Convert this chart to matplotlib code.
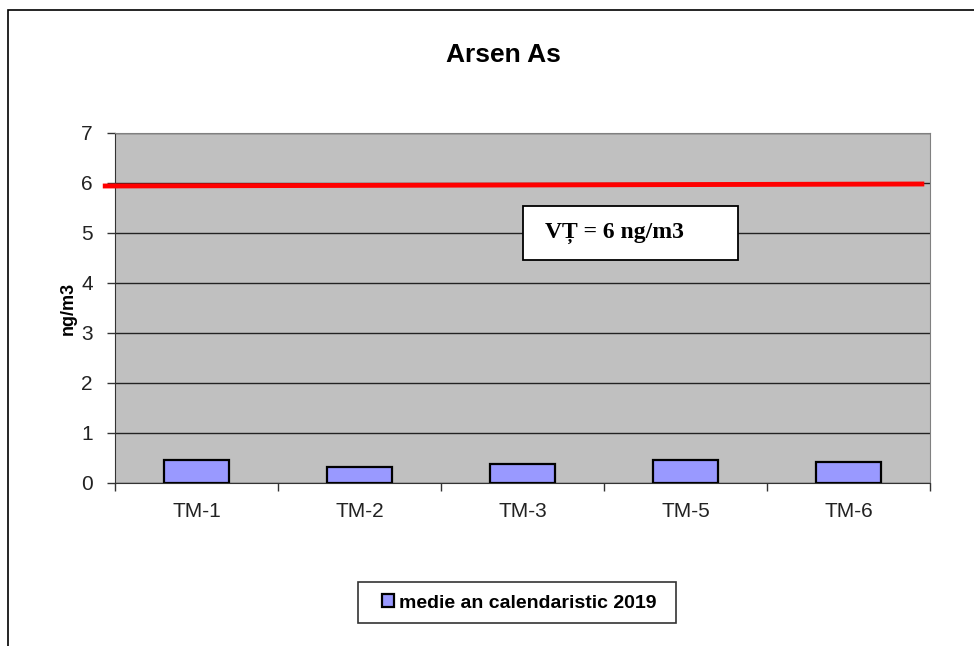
import numpy as np
import matplotlib.pyplot as plt
from matplotlib.patches import Rectangle

plt.rcParams['font.family'] = ['Liberation Sans', 'DejaVu Sans']

statii = ['TM-1', 'TM-2', 'TM-3', 'TM-5', 'TM-6']
medie_2019 = [0.46, 0.32, 0.38, 0.46, 0.43]
vt_linie = [5.94, 5.98]   # linia rosie (valoarea tinta), capete stanga/dreapta

fig = plt.figure(figsize=(9.74, 6.46), dpi=100)
ax = fig.add_axes([115/974, 1 - 483/646, 815/974, 350/646])

# chenarul graficului
fig.patches.append(Rectangle((8/974, -0.1), 1.2, 1 - 10/646 + 0.1, transform=fig.transFigure,
                             fill=False, ec='black', lw=1.2))

x = np.arange(len(statii))
ax.set_facecolor('#C0C0C0')
ax.set_xlim(-0.5, len(statii) - 0.5)
ax.set_ylim(0, 7)
ax.set_yticks(range(8))
ax.yaxis.grid(True, color='#222222', lw=1)
ax.set_axisbelow(True)

ax.bar(x, medie_2019, width=0.4, color='#9999FF', edgecolor='black', lw=1.6,
       label='medie an calendaristic 2019', zorder=3)

ax.plot([-0.56, len(statii) - 0.55], vt_linie, color='#FF0000', lw=3.5,
        clip_on=False, zorder=4)

# caseta VT
ax.add_patch(Rectangle(((523 - 115)/815, (483 - 260)/350), 215/815, 54/350,
                       transform=ax.transAxes, fc='white', ec='black', lw=1.3, zorder=5))
ax.text((614 - 115)/815, (483 - 233)/350, 'VȚ = 6 ng/m3', fontsize=17, fontweight='bold',
        family='Liberation Serif', ha='center', va='center', zorder=6,
        transform=ax.transAxes)

# ticks: la granitele categoriilor, etichete la centru
ax.set_xticks(np.arange(len(statii) + 1) - 0.5)
ax.set_xticklabels([])
ax.set_xticks(x, minor=True)
ax.set_xticklabels(statii, minor=True)
ax.tick_params(axis='x', which='minor', length=0, pad=14, labelsize=15, labelcolor='#222222')
ax.tick_params(axis='x', which='major', length=6, width=1, color='#333333')
ax.tick_params(axis='y', length=6, width=1, color='#333333', labelsize=15,
               labelcolor='#222222', pad=10)

for s in ['top', 'right']:
    ax.spines[s].set_color('#808080')
ax.spines['left'].set_color('#333333')
ax.spines['bottom'].set_color('#333333')

ax.set_ylabel('ng/m3', fontsize=13, fontweight='bold', labelpad=3)
fig.text(503/974, 1 - 55/646, 'Arsen As', fontsize=19, fontweight='bold',
         ha='center', va='center')

# legenda: chenar desenat separat
fig.patches.append(Rectangle((358/974, 1 - 623/646), 318/974, 41/646,
                             transform=fig.transFigure, fc='white', ec='#333333', lw=1.2))
leg = fig.legend(loc='center', bbox_to_anchor=(519/974, 1 - 603/646),
                 prop={'size': 14, 'weight': 'bold'}, frameon=False,
                 handlelength=0.6, handleheight=0.6,
                 handletextpad=0.25, borderpad=0, borderaxespad=0)

fig.savefig('out.png', dpi=100)
